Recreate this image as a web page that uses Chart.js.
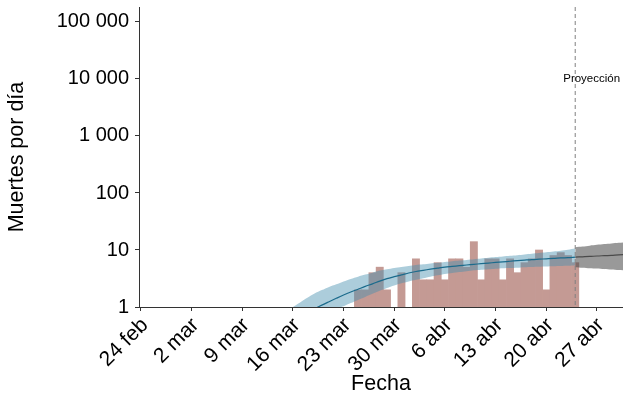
<!DOCTYPE html>
<html>
<head>
<meta charset="utf-8">
<script src="https://cdn.jsdelivr.net/npm/chart.js@4.4.1/dist/chart.umd.min.js"></script>
<style>
  html, body { margin: 0; padding: 0; background: #fff; }
  canvas { display: block; }
</style>
</head>
<body>
<canvas id="deathsChart" width="623" height="400"></canvas>
<script>
// Muertes diarias + ajuste y proyección, eje y logarítmico
var origin = '2020-02-24';

var tickDates = ['2020-02-24', '2020-03-02', '2020-03-09', '2020-03-16', '2020-03-23',
                 '2020-03-30', '2020-04-06', '2020-04-13', '2020-04-20', '2020-04-27'];
var tickLabels = ['24 feb', '2 mar', '9 mar', '16 mar', '23 mar', '30 mar', '6 abr', '13 abr', '20 abr', '27 abr'];
var yTicks = [1, 10, 100, 1000, 10000, 100000];

// muertes por día desde el 25 mar (null = sin muertes)
var deathsStart = '2020-03-25';
var deaths = [2, 2, 4, 5, 2, null, 4, null, 7, 3, 3, 6, 3, 7, 7, 5, 14, 3, 7, 7,
              3, 7, 4, 6, 7, 10, 2, 8, 9, 8, 6];

// ajuste (15 mar - 24 abr)
var fitStart = '2020-03-15';
var fitLine = [0.45, 0.55, 0.67, 0.8, 0.93, 1.08, 1.24, 1.42, 1.62, 1.83, 2.05, 2.3, 2.55, 2.85, 3.15, 3.4, 3.65,
               3.95, 4.2, 4.4, 4.6, 4.8, 5.0, 5.15, 5.3, 5.45, 5.6, 5.75, 5.9, 6.05, 6.2, 6.35, 6.5, 6.65, 6.8,
               6.9, 7.0, 7.1, 7.25, 7.35, 7.5];
var fitUpper = [0.85, 1.0, 1.2, 1.45, 1.72, 1.98, 2.25, 2.5, 2.8, 3.1, 3.4, 3.7, 4.0, 4.35, 4.6, 4.85, 5.05,
                5.25, 5.45, 5.6, 5.8, 5.95, 6.15, 6.35, 6.55, 6.7, 6.9, 7.1, 7.3, 7.5, 7.7, 7.9, 8.1, 8.35, 8.6,
                8.85, 9.1, 9.4, 9.7, 10.1, 10.6];
var fitLower = [0.22, 0.28, 0.35, 0.43, 0.53, 0.65, 0.79, 0.93, 1.03, 1.17, 1.33, 1.5, 1.7, 1.92, 2.15, 2.38, 2.6,
                2.8, 3.0, 3.2, 3.4, 3.6, 3.8, 3.95, 4.1, 4.25, 4.4, 4.5, 4.6, 4.7, 4.8, 4.85, 4.9, 5.0, 5.05,
                5.1, 5.15, 5.2, 5.25, 5.3, 5.35];

// proyección (24 abr - 1 may)
var projStart = '2020-04-24';
var projLine = [7.5, 7.6, 7.7, 7.85, 7.95, 8.05, 8.2, 8.3];
var projUpper = [11.2, 11.5, 11.9, 12.3, 12.7, 13.0, 13.4, 13.7];
var projLower = [5.0, 4.9, 4.8, 4.75, 4.65, 4.55, 4.45, 4.4];
var projLabel = 'Proyección';

var FONT = '"Liberation Sans", Arial, Helvetica, sans-serif';

function dayIndex(iso) {
    return Math.round((Date.parse(iso) - Date.parse(origin)) / 86400000);
}

function toPoints(start, values) {
    var d0 = dayIndex(start);
    return values.map(function(v, i) { return { x: d0 + i, y: v }; });
}

function thousands(v) {
    return String(v).replace(/\B(?=(\d{3})+(?!\d))/g, ' ');
}

var tickDays = tickDates.map(dayIndex);

var projectionMarker = {
    id: 'projectionMarker',
    afterDatasetsDraw: function(chart) {
        var ctx = chart.ctx;
        var area = chart.chartArea;
        var x = chart.scales.x.getPixelForValue(dayIndex(projStart));
        ctx.save();
        ctx.strokeStyle = '#808080';
        ctx.lineWidth = 1;
        ctx.setLineDash([4, 3]);
        ctx.beginPath();
        ctx.moveTo(x, area.top);
        ctx.lineTo(x, area.bottom);
        ctx.stroke();
        ctx.setLineDash([]);
        ctx.fillStyle = '#000';
        ctx.font = '11.5px ' + FONT;
        ctx.textAlign = 'left';
        ctx.textBaseline = 'middle';
        ctx.fillText(projLabel, x - 12, chart.scales.y.getPixelForValue(10000));
        ctx.restore();
    }
};

var noLine = { pointRadius: 0, borderWidth: 0, tension: 0.3 };

new Chart(document.getElementById('deathsChart'), {
    type: 'bar',
    data: {
        datasets: [
            Object.assign({ type: 'line', data: toPoints(fitStart, fitLine), borderColor: '#1b6b8c',
                borderWidth: 1.2, fill: false, order: 0 }, { pointRadius: 0, tension: 0.3 }),
            Object.assign({ type: 'line', data: toPoints(projStart, projLine), borderColor: '#4a4a4a',
                borderWidth: 1.2, fill: false, order: 0 }, { pointRadius: 0, tension: 0.3 }),
            Object.assign({ type: 'line', data: toPoints(fitStart, fitUpper), fill: '+1',
                backgroundColor: 'rgba(70,145,175,0.45)', order: 1 }, noLine),
            Object.assign({ type: 'line', data: toPoints(fitStart, fitLower), fill: false, order: 1 }, noLine),
            Object.assign({ type: 'line', data: toPoints(projStart, projUpper), fill: '+1',
                backgroundColor: 'rgba(70,70,70,0.55)', order: 1 }, noLine),
            Object.assign({ type: 'line', data: toPoints(projStart, projLower), fill: false, order: 1 }, noLine),
            {
                type: 'bar',
                data: toPoints(deathsStart, deaths),
                backgroundColor: '#c49a94',
                barPercentage: 1,
                categoryPercentage: 1,
                order: 2
            }
        ]
    },
    options: {
        responsive: false,
        animation: false,
        layout: { padding: { top: 7, right: 0, left: 0, bottom: 0 } },
        plugins: { legend: { display: false }, tooltip: { enabled: false } },
        scales: {
            x: {
                type: 'linear',
                offset: false,
                min: -0.25,
                max: 66.6,
                afterBuildTicks: function(s) { s.ticks = tickDays.map(function(v) { return { value: v }; }); },
                afterFit: function(s) { s.height = 93; s.paddingLeft = 0; s.paddingRight = 0; },
                ticks: {
                    autoSkip: false,
                    minRotation: 45,
                    maxRotation: 45,
                    color: '#000',
                    padding: 2,
                    labelOffset: 4,
                    font: { family: FONT, size: 21 },
                    callback: function(v) { return tickLabels[tickDays.indexOf(v)]; }
                },
                grid: { offset: false, drawOnChartArea: false, drawTicks: true, tickLength: 4, color: '#333' },
                border: { display: true, color: '#333', width: 1 },
                title: { display: true, text: 'Fecha', color: '#000', font: { family: FONT, size: 21.5 }, padding: 3 }
            },
            y: {
                type: 'logarithmic',
                min: 1,
                max: 183000,
                afterBuildTicks: function(s) { s.ticks = yTicks.map(function(v) { return { value: v }; }); },
                afterFit: function(s) { s.width = 139; s.paddingTop = 0; s.paddingBottom = 0; },
                ticks: {
                    color: '#000',
                    padding: 6,
                    font: { family: FONT, size: 20 },
                    callback: function(v) { return thousands(v); }
                },
                grid: { drawOnChartArea: false, drawTicks: true, tickLength: 4, color: '#333' },
                border: { display: true, color: '#333', width: 1 },
                title: { display: true, text: 'Muertes por día', color: '#000', font: { family: FONT, size: 21.5 }, padding: 4 }
            }
        }
    },
    plugins: [projectionMarker]
});
</script>
</body>
</html>
